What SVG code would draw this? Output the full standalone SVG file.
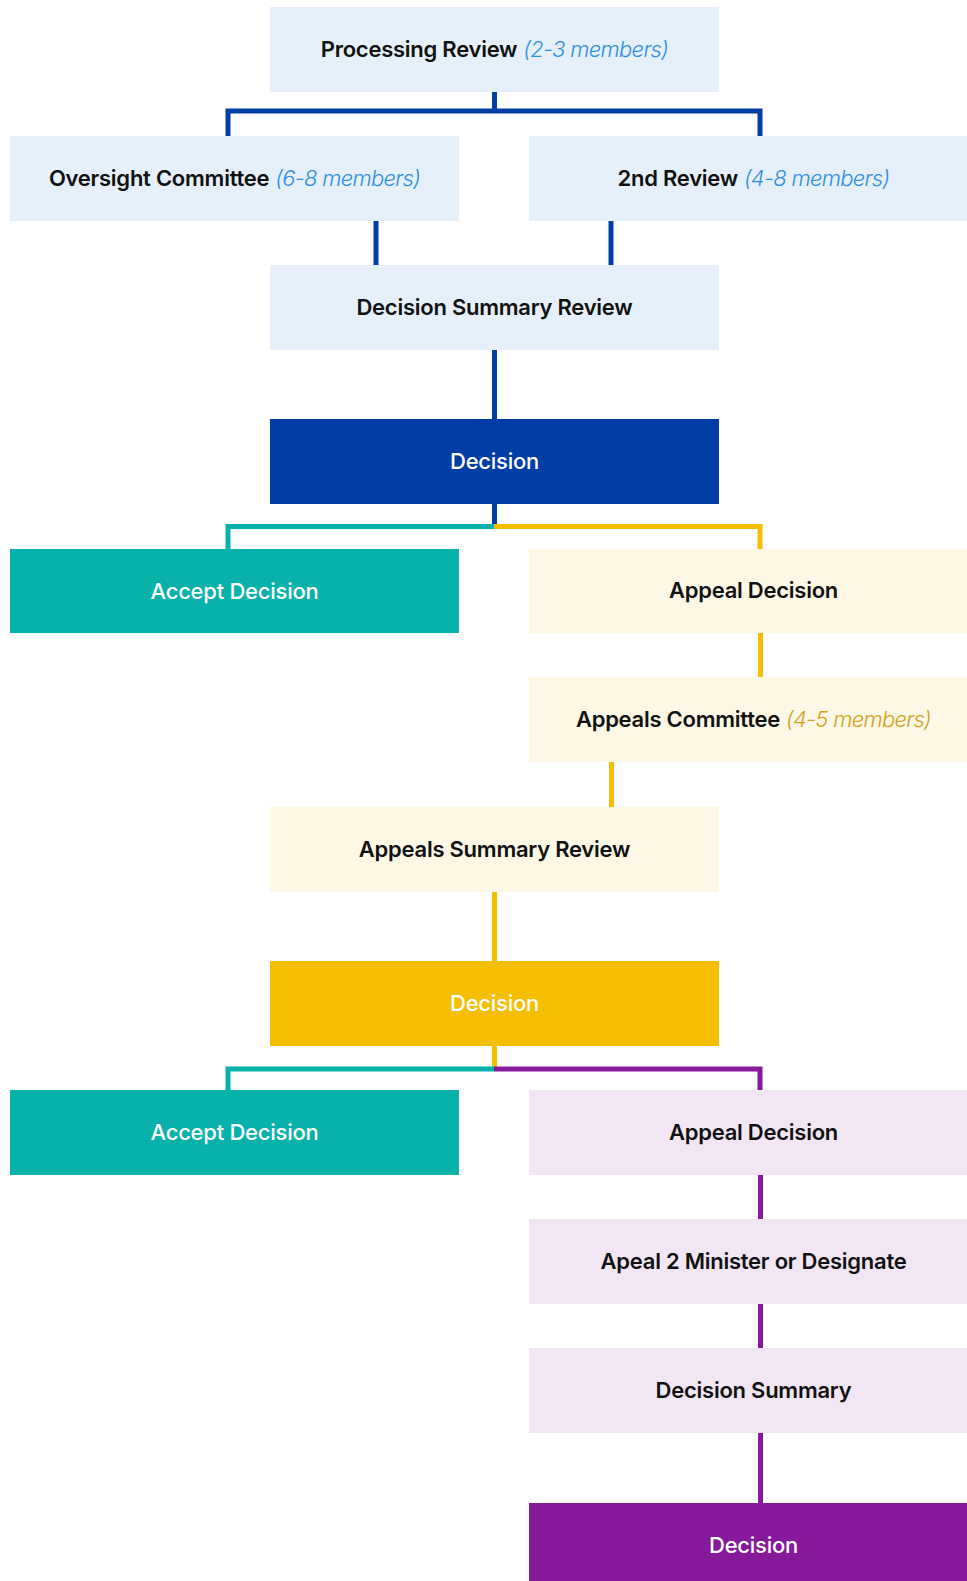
<svg xmlns="http://www.w3.org/2000/svg" width="967" height="1581" viewBox="0 0 967 1581">
<style>
.lb{fill:#E5F0FA}.ly{fill:#FDF7E6}.lp{fill:#F2E6F5}
.db{fill:#003DA5}.dy{fill:#F6BE00}.dp{fill:#861A9A}.tl{fill:#08B2AA}
text{font-family:Inter,"Noto Sans","Liberation Sans",sans-serif;font-size:22px;text-anchor:middle;letter-spacing:-0.25px}
.k{fill:#111;font-weight:600}
.w{fill:#fff;font-weight:500}
.ib{fill:#2E8FE0;font-style:italic;font-weight:300;letter-spacing:-0.7px}
.iy{fill:#D4A21A;font-style:italic;font-weight:300;letter-spacing:-0.7px}
.c{fill:none;stroke-width:5;stroke-linejoin:miter}
.cb{stroke:#003DA5}.cy{stroke:#F6BE00}.ct{stroke:#08B2AA}.cp{stroke:#861A9A}
</style>
<g id="connectors">
<path class="c cb" d="M494.5,92 V111"/>
<path class="c cb" d="M228,136 V111 H760 V136"/>
<path class="c cb" d="M376,221 V265"/>
<path class="c cb" d="M611,221 V265"/>
<path class="c cb" d="M494.5,350 V419"/>
<path class="c cb" d="M494.5,504 V527"/>
<path class="c ct" d="M494.5,526.5 H228 V549"/>
<path class="c cy" d="M494,526.5 H760 V549"/>
<path class="c cy" d="M760.5,633 V677"/>
<path class="c cy" d="M611.5,762 V807"/>
<path class="c cy" d="M494.5,892 V961"/>
<path class="c cy" d="M494.5,1046 V1069"/>
<path class="c ct" d="M494.5,1069 H228 V1090"/>
<path class="c cp" d="M494,1069 H760 V1090"/>
<path class="c cp" d="M760.5,1175 V1219"/>
<path class="c cp" d="M760.5,1304 V1348"/>
<path class="c cp" d="M760.5,1433 V1503"/>
</g>
<g id="processing-review"><rect class="lb" x="270" y="7" width="449" height="85"/><text x="494.5" y="56.5"><tspan class="k">Processing Review</tspan> <tspan class="ib">(2-3 members)</tspan></text></g>
<g id="oversight-committee"><rect class="lb" x="10" y="136" width="449" height="85"/><text x="234.5" y="185.5"><tspan class="k">Oversight Committee</tspan> <tspan class="ib">(6-8 members)</tspan></text></g>
<g id="second-review"><rect class="lb" x="529" y="136" width="449" height="85"/><text x="753.5" y="185.5"><tspan class="k">2nd Review</tspan> <tspan class="ib">(4-8 members)</tspan></text></g>
<g id="decision-summary-review"><rect class="lb" x="270" y="265" width="449" height="85"/><text class="k" x="494.5" y="314.5">Decision Summary Review</text></g>
<g id="decision-1"><rect class="db" x="270" y="419" width="449" height="85"/><text class="w" x="494.5" y="469">Decision</text></g>
<g id="accept-decision-1"><rect class="tl" x="10" y="549" width="449" height="84"/><text class="w" x="234.5" y="599">Accept Decision</text></g>
<g id="appeal-decision-1"><rect class="ly" x="529" y="549" width="449" height="84"/><text class="k" x="753.5" y="598">Appeal Decision</text></g>
<g id="appeals-committee"><rect class="ly" x="529" y="677" width="449" height="85"/><text x="753.5" y="726.5"><tspan class="k">Appeals Committee</tspan> <tspan class="iy">(4-5 members)</tspan></text></g>
<g id="appeals-summary-review"><rect class="ly" x="270" y="807" width="449" height="85"/><text class="k" x="494.5" y="856.5">Appeals Summary Review</text></g>
<g id="decision-2"><rect class="dy" x="270" y="961" width="449" height="85"/><text class="w" x="494.5" y="1011">Decision</text></g>
<g id="accept-decision-2"><rect class="tl" x="10" y="1090" width="449" height="85"/><text class="w" x="234.5" y="1140">Accept Decision</text></g>
<g id="appeal-decision-2"><rect class="lp" x="529" y="1090" width="449" height="85"/><text class="k" x="753.5" y="1139.5">Appeal Decision</text></g>
<g id="appeal-minister"><rect class="lp" x="529" y="1219" width="449" height="85"/><text class="k" x="753.5" y="1268.5">Apeal 2 Minister or Designate</text></g>
<g id="decision-summary"><rect class="lp" x="529" y="1348" width="449" height="85"/><text class="k" x="753.5" y="1397.5">Decision Summary</text></g>
<g id="decision-3"><rect class="dp" x="529" y="1503" width="449" height="85"/><text class="w" x="753.5" y="1553">Decision</text></g>
</svg>
